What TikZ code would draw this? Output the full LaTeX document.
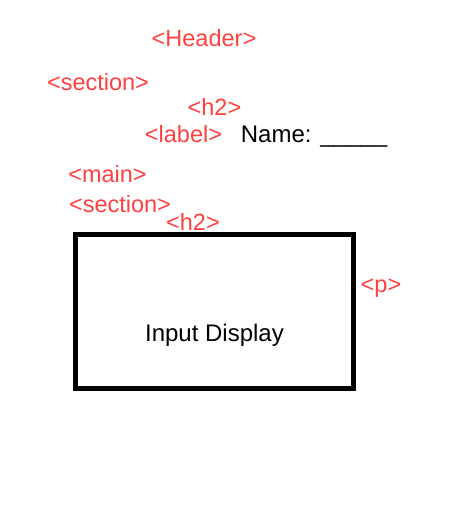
\documentclass[tikz,border=0pt]{standalone}
\usepackage{fontspec}
\setmainfont{Liberation Sans}
\definecolor{tagred}{RGB}{255,64,64}
\begin{document}
\begin{tikzpicture}[
	x=1pt, y=-1pt,
	tag/.style={ text=tagred, anchor=base, inner sep=0pt, font=\fontsize{23.5}{23.5}\selectfont },
	plain/.style={ text=black, anchor=base, inner sep=0pt, font=\fontsize{24}{24}\selectfont },
	box/.style={ draw, line width=5pt, inner sep=0pt, minimum width=278pt, minimum height=154pt }
]
\useasboundingbox (0,0) rectangle (448,519);

\node at (204,47) (header) [tag] {<Header>};
\node at (98,90.5) (sectionone) [tag] {<section>};
\node at (214.5,115) (h2one) [tag] {<h2>};
\node at (183.5,142.5) (label) [tag] {<label>};
\node at (314,142) (name) [plain] {Name: \_\_\_\_\_};
\node at (107.5,182.5) (main) [tag] {<main>};
\node at (120,212.5) (sectiontwo) [tag] {<section>};
\node at (193,230.5) (h2two) [tag] {<h2>};
\node at (214.5,311.5) (display) [box] {};
\node at (381,292) (para) [tag] {<p>};
\node at (214.5,341.5) (input) [plain] {Input Display};

\end{tikzpicture}
\end{document}
